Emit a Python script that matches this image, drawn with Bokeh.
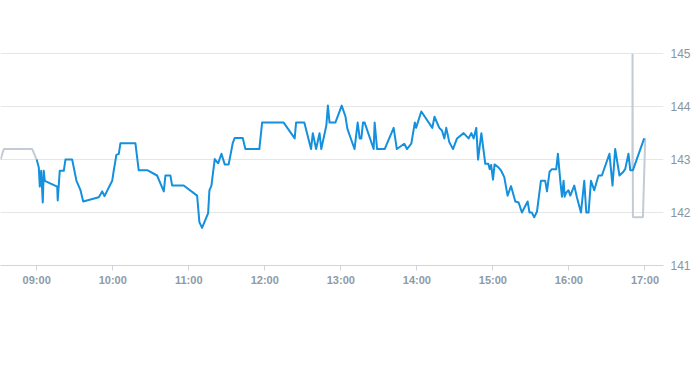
import pandas as pd
from bokeh.plotting import figure
from bokeh.models import Range1d, LinearAxis, DatetimeAxis, FixedTicker, DatetimeTickFormatter
from bokeh.embed import file_html
from bokeh.resources import INLINE

DAY = "2024-01-02 "

pre_times = ["08:31:27", "08:34:03", "08:56:30", "08:59:54"]
pre_values = [143.0, 143.2, 143.2, 143.0]

post_times = ["16:50:06", "16:50:12", "16:50:30", "16:58:24", "17:00:12"]
post_values = [142.80, 145.0, 141.91, 141.91, 143.41]

times = [
    "09:00:00", "09:01:40", "09:02:27", "09:03:33", "09:04:48", "09:05:36", "09:06:24",
    "09:16:12", "09:16:36", "09:18:12", "09:21:24", "09:22:42", "09:28:00", "09:31:24",
    "09:34:30", "09:36:42", "09:49:00", "09:51:42", "09:53:30", "09:59:36", "10:00:48",
    "10:02:54", "10:04:48", "10:06:06", "10:17:54", "10:20:30", "10:27:12", "10:35:00",
    "10:40:18", "10:41:36", "10:45:30", "10:46:54", "10:56:00", "11:06:36", "11:08:24",
    "11:10:30", "11:15:18", "11:16:18", "11:17:54", "11:20:30", "11:23:12", "11:25:48",
    "11:28:24", "11:31:30", "11:34:42", "11:36:18", "11:42:36", "11:44:42", "11:55:42",
    "11:57:54", "12:14:54", "12:23:36", "12:24:42", "12:31:12", "12:36:30", "12:37:54",
    "12:40:30", "12:43:12", "12:44:36", "12:48:36", "12:49:48", "12:51:06", "12:55:42",
    "13:00:42", "13:03:36", "13:05:12", "13:10:48", "13:13:18", "13:14:54", "13:16:12",
    "13:17:30", "13:18:48", "13:25:54", "13:26:42", "13:28:36", "13:34:36", "13:41:42",
    "13:44:12", "13:50:06", "13:52:12", "13:55:36", "13:58:24", "13:59:24", "14:03:30",
    "14:12:12", "14:13:54", "14:17:42", "14:19:48", "14:21:42", "14:23:12", "14:25:36",
    "14:28:30", "14:31:42", "14:36:54", "14:40:48", "14:43:00", "14:44:48", "14:46:54",
    "14:48:18", "14:50:54", "14:54:00", "14:56:24", "14:57:30", "14:58:36", "15:00:06",
    "15:01:18", "15:04:30", "15:06:30", "15:09:00", "15:11:36", "15:14:18", "15:17:42",
    "15:20:18", "15:22:54", "15:27:24", "15:28:54", "15:30:48", "15:32:36", "15:34:48",
    "15:37:54", "15:41:18", "15:42:42", "15:44:42", "15:46:36", "15:50:00", "15:51:18",
    "15:53:12", "15:54:30", "15:55:48", "15:56:36", "15:57:54", "15:59:42", "16:01:06",
    "16:04:12", "16:06:18", "16:09:30", "16:12:06", "16:13:42", "16:15:30", "16:17:24",
    "16:20:00", "16:22:06", "16:23:24", "16:26:00", "16:32:00", "16:34:24", "16:36:30",
    "16:39:54", "16:42:36", "16:44:24", "16:47:00", "16:48:24", "16:50:30", "16:59:24",
]
values = [
    143.00, 142.85, 142.49, 142.79, 142.19, 142.79, 142.60,
    142.49, 142.23, 142.79, 142.79, 143.00, 143.00, 142.60,
    142.43, 142.21, 142.29, 142.40, 142.31, 142.60, 142.79,
    143.09, 143.11, 143.31, 143.31, 142.80, 142.80, 142.70,
    142.40, 142.70, 142.70, 142.51, 142.51, 142.32, 141.82,
    141.71, 141.99, 142.42, 142.51, 143.01, 142.93, 143.11,
    142.91, 142.91, 143.31, 143.41, 143.41, 143.20, 143.20,
    143.70, 143.70, 143.40, 143.70, 143.70, 143.20, 143.50,
    143.20, 143.50, 143.20, 143.65, 144.02, 143.70, 143.70,
    144.02, 143.82, 143.58, 143.20, 143.70, 143.40, 143.40,
    143.70, 143.70, 143.20, 143.70, 143.20, 143.20, 143.60,
    143.20, 143.30, 143.20, 143.30, 143.70, 143.60, 143.91,
    143.60, 143.81, 143.60, 143.55, 143.40, 143.60, 143.33,
    143.20, 143.40, 143.50, 143.40, 143.50, 143.40, 143.60,
    143.00, 143.50, 142.92, 142.92, 142.82, 142.90, 142.62,
    142.91, 142.85, 142.79, 142.67, 142.32, 142.50, 142.21,
    142.19, 142.00, 142.21, 142.00, 142.00, 141.91, 142.02,
    142.60, 142.60, 142.40, 142.77, 142.82, 142.82, 143.11,
    142.60, 142.30, 142.60, 142.30, 142.38, 142.42, 142.32,
    142.51, 142.29, 142.00, 142.60, 142.00, 142.00, 142.60,
    142.42, 142.60, 142.70, 142.70, 143.11, 142.51, 143.20,
    142.70, 142.76, 142.82, 143.11, 142.80, 142.80, 143.40,
]

tick_times = ["09:00", "10:00", "11:00", "12:00", "13:00", "14:00", "15:00", "16:00", "17:00"]
y_ticks = [141, 142, 143, 144, 145]


def to_dt(ts):
    return pd.to_datetime([DAY + t for t in ts])


x_start = pd.Timestamp(DAY + "08:31:27")
x_end = pd.Timestamp(DAY + "17:14:38")

p = figure(
    frame_width=663, frame_height=225, x_axis_type="datetime",
    output_backend="svg", toolbar_location=None,
    x_range=Range1d(x_start, x_end), y_range=Range1d(141, 145.25),
    min_border_left=0, min_border_right=0, min_border_top=40, min_border_bottom=100,
    x_axis_location=None, y_axis_location=None,
)
p.outline_line_color = None
p.background_fill_color = "white"
p.border_fill_color = "white"

xaxis = DatetimeAxis()
tick_ms = [pd.Timestamp(DAY + t).value // 10**6 for t in tick_times]
xaxis.ticker = FixedTicker(ticks=tick_ms)
xaxis.formatter = DatetimeTickFormatter(hours="%H:%M", minutes="%H:%M", hourmin="%H:%M")
xaxis.axis_line_color = "#ccd6e0"
xaxis.axis_line_width = 1
xaxis.major_tick_line_color = "#ccd6e0"
xaxis.major_tick_out = 5
xaxis.major_tick_in = 0
xaxis.minor_tick_line_color = None
xaxis.major_label_text_font = "Liberation Sans"
xaxis.major_label_text_font_style = "bold"
xaxis.major_label_text_font_size = "11px"
xaxis.major_label_text_color = "#8d9aa8"
xaxis.major_label_standoff = 3
p.add_layout(xaxis, "below")

yaxis = LinearAxis()
yaxis.ticker = FixedTicker(ticks=y_ticks)
yaxis.axis_line_color = None
yaxis.major_tick_line_color = None
yaxis.minor_tick_line_color = None
yaxis.major_tick_out = 0
yaxis.major_tick_in = 0
yaxis.major_label_text_font = "Liberation Sans"
yaxis.major_label_text_font_size = "12px"
yaxis.major_label_text_color = "#8a949e"
yaxis.major_label_standoff = 7
p.add_layout(yaxis, "right")

p.xgrid.visible = False
p.ygrid.ticker = FixedTicker(ticks=y_ticks[1:])
p.ygrid.grid_line_color = "#e6e6e6"
p.ygrid.grid_line_width = 1

p.line(to_dt(pre_times), pre_values, line_color="#c3ccd4", line_width=2)
p.line(to_dt(post_times), post_values, line_color="#c3ccd4", line_width=2)
p.line(to_dt(times), values, line_color="#1490de", line_width=2, line_join="round")

open("out.html", "w").write(file_html(p, INLINE))
